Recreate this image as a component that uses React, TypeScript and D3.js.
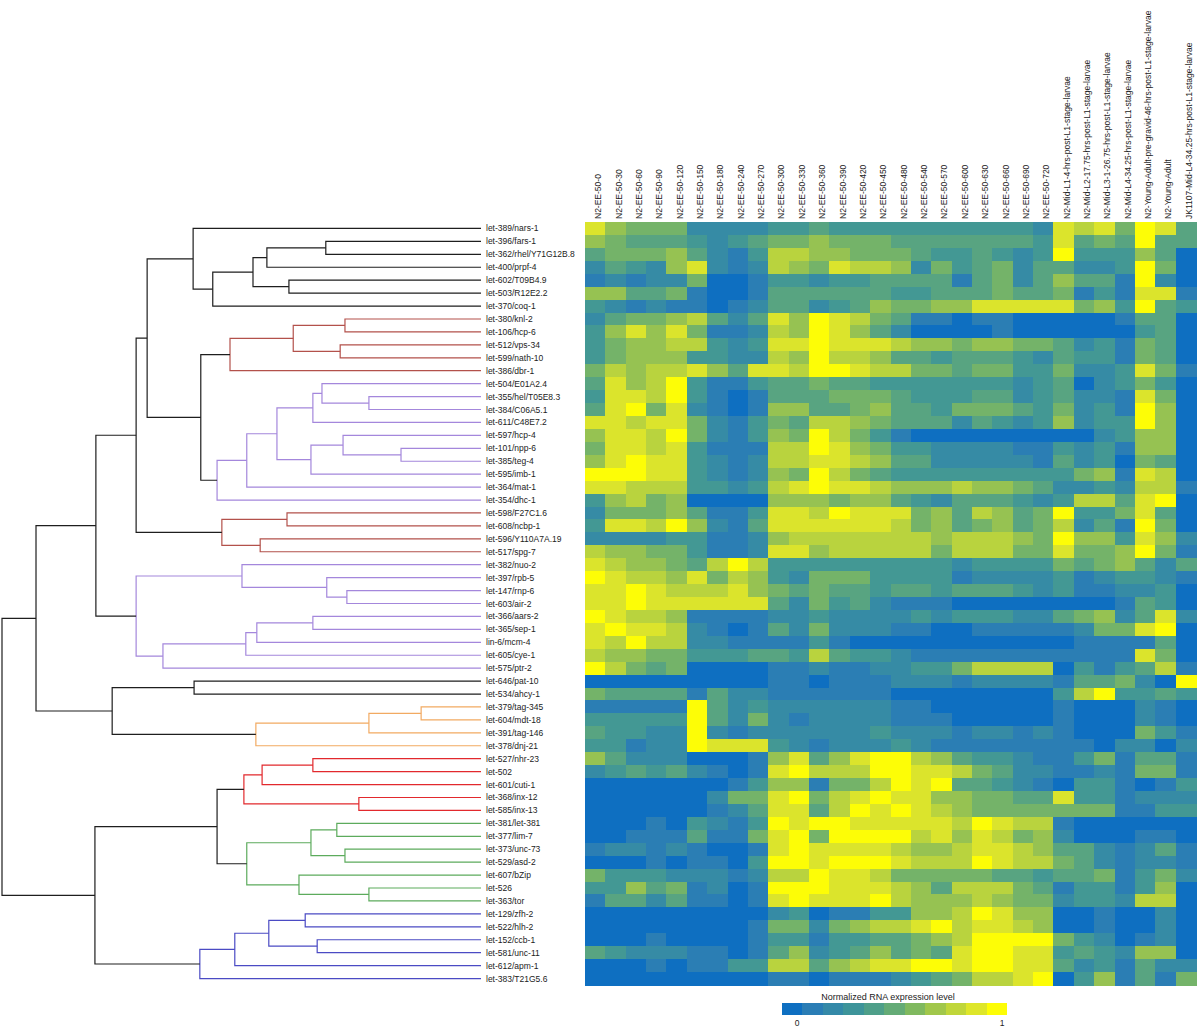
import React from "react";
import * as d3 from "d3";

const geneLabels = [
  "let-389/nars-1", "let-396/fars-1", "let-362/rhel/Y71G12B.8", "let-400/prpf-4", "let-602/T09B4.9",
  "let-503/R12E2.2", "let-370/coq-1", "let-380/knl-2", "let-106/hcp-6", "let-512/vps-34",
  "let-599/nath-10", "let-386/dbr-1", "let-504/E01A2.4", "let-355/hel/T05E8.3", "let-384/C06A5.1",
  "let-611/C48E7.2", "let-597/hcp-4", "let-101/npp-6", "let-385/teg-4", "let-595/imb-1",
  "let-364/mat-1", "let-354/dhc-1", "let-598/F27C1.6", "let-608/ncbp-1", "let-596/Y110A7A.19",
  "let-517/spg-7", "let-382/nuo-2", "let-397/rpb-5", "let-147/rnp-6", "let-603/air-2",
  "let-366/aars-2", "let-365/sep-1", "lin-6/mcm-4", "let-605/cye-1", "let-575/ptr-2",
  "let-646/pat-10", "let-534/ahcy-1", "let-379/tag-345", "let-604/mdt-18", "let-391/tag-146",
  "let-378/dnj-21", "let-527/nhr-23", "let-502", "let-601/cuti-1", "let-368/inx-12",
  "let-585/inx-13", "let-381/let-381", "let-377/lim-7", "let-373/unc-73", "let-529/asd-2",
  "let-607/bZip", "let-526", "let-363/tor", "let-129/zfh-2", "let-522/hlh-2",
  "let-152/ccb-1", "let-581/unc-11", "let-612/apm-1", "let-383/T21G5.6",
];

const sampleLabels = [
  "N2-EE-50-0", "N2-EE-50-30", "N2-EE-50-60", "N2-EE-50-90", "N2-EE-50-120", "N2-EE-50-150",
  "N2-EE-50-180", "N2-EE-50-240", "N2-EE-50-270", "N2-EE-50-300", "N2-EE-50-330", "N2-EE-50-360",
  "N2-EE-50-390", "N2-EE-50-420", "N2-EE-50-450", "N2-EE-50-480", "N2-EE-50-540", "N2-EE-50-570",
  "N2-EE-50-600", "N2-EE-50-630", "N2-EE-50-660", "N2-EE-50-690", "N2-EE-50-720",
  "N2-Mid-L1-4-hrs-post-L1-stage-larvae",
  "N2-Mid-L2-17.75-hrs-post-L1-stage-larvae",
  "N2-Mid-L3-1-26.75-hrs-post-L1-stage-larvae",
  "N2-Mid-L4-34.25-hrs-post-L1-stage-larvae",
  "N2-Young-Adult-pre-gravid-46-hrs-post-L1-stage-larvae",
  "N2-Young-Adult",
  "JK1107-Mid-L4-34.25-hrs-post-L1-stage-larvae",
];

// expression level per gene row, one digit per sample (0 = lowest, 9 = highest)
const exprLevels = [
  "865552222334333333333328785984",
  "654443234556555444444438454944",
  "455564213776655543343239333640",
  "243268212765877625345244223950",
  "121225001332334444145246441920",
  "664451001444444334445445131881",
  "321211012442346556688888563943",
  "245567424869875411011000001440",
  "368685112769864200001000000340",
  "356677323889888766566554231540",
  "356663322769776443444324331540",
  "576778648879987755455335223851",
  "486793113445443333333234023530",
  "388793101444555433344234221850",
  "489582101664456443555435231960",
  "887885213547765444243236233960",
  "688795213659753100000000023660",
  "588783111779865332222113231660",
  "689883212778876442222214230540",
  "999883212659754333333333561870",
  "887773323789887666766542232771",
  "367560000666566432444323774890",
  "255564113887988856476459335840",
  "388796214888888756456457241950",
  "222233112677777776777659663862",
  "766553112886777775777558556951",
  "876654797333333333233335456424",
  "987768576325553333122223123321",
  "889877786545443443444323112230",
  "889888888425342111000000001430",
  "987761111223222232333224562482",
  "898872101425222110011111255890",
  "879772211113100000000000111140",
  "766553334437433211111111111850",
  "975450000112112233577770313471",
  "000000000110111222122221445209",
  "544441422111111000000003793343",
  "111119423222222110000001000210",
  "333339425212222111000001000210",
  "433229212222223222122121000531",
  "331229888321222321111111102202",
  "642220001684689976433211351441",
  "234342101897779988754221121551",
  "000000013661557989443210331013",
  "000000255895789886655448331222",
  "000000124884798987655555551133",
  "000103213989988888798771000000",
  "001114115895999978687562000110",
  "122121001898888766788764421241",
  "000101103998999877798775421221",
  "533322212779887555554434451352",
  "336451201999888764777541331360",
  "144241101898889766676552332770",
  "000000000230113366798660010020",
  "000000001552567789788760010020",
  "000100001331334456799995320120",
  "432221101462346454899883432660",
  "000101133774678899899884231422",
  "000000000110111234577890361415",
];

// linkage: [childA, childB, distance (root = 1), cluster]; leaves are 0..58, merges numbered from 59
const linkage: [number, number, number, string][] = [
  [1, 2, 0.324, "k"], [59, 3, 0.447, "k"], [4, 5, 0.401, "k"], [60, 61, 0.476, "k"],
  [62, 6, 0.56, "k"], [0, 63, 0.601, "k"],
  [7, 8, 0.284, "r1"], [9, 10, 0.294, "r1"], [65, 66, 0.392, "r1"], [67, 11, 0.524, "r1"],
  [13, 14, 0.234, "p"], [12, 69, 0.332, "p"], [70, 15, 0.351, "p"], [17, 18, 0.167, "p"],
  [16, 72, 0.288, "p"], [73, 19, 0.355, "p"], [71, 74, 0.426, "p"], [75, 20, 0.489, "p"],
  [76, 21, 0.551, "p"],
  [68, 77, 0.585, "k"], [64, 78, 0.697, "k"],
  [22, 23, 0.405, "r1"], [24, 25, 0.461, "r1"], [80, 81, 0.541, "r1"],
  [79, 82, 0.72, "k"],
  [28, 29, 0.28, "p"], [27, 84, 0.322, "p"], [26, 85, 0.499, "p"], [30, 31, 0.351, "p"],
  [87, 32, 0.468, "p"], [88, 33, 0.491, "p"], [89, 34, 0.664, "p"], [86, 90, 0.72, "p"],
  [83, 91, 0.804, "k"],
  [35, 36, 0.599, "k"],
  [37, 38, 0.125, "o"], [94, 39, 0.234, "o"], [95, 40, 0.47, "o"],
  [93, 96, 0.77, "k"], [92, 97, 0.929, "k"],
  [41, 42, 0.351, "r"], [99, 43, 0.457, "r"], [44, 45, 0.255, "r"], [100, 101, 0.495, "r"],
  [46, 47, 0.301, "g"], [48, 49, 0.284, "g"], [103, 104, 0.355, "g"], [51, 52, 0.234, "g"],
  [50, 106, 0.38, "g"], [105, 107, 0.489, "g"],
  [102, 108, 0.551, "k"],
  [53, 54, 0.367, "b"], [55, 56, 0.342, "b"], [110, 111, 0.443, "b"], [112, 57, 0.514, "b"],
  [113, 58, 0.587, "b"],
  [109, 114, 0.806, "k"], [98, 115, 1.0, "k"],
];

const clusterColors: Record<string, string> = {
  k: "#1e1e1e",
  r1: "#b3514b",
  p: "#a487dc",
  o: "#f2aa62",
  r: "#e2292d",
  g: "#5cab5c",
  b: "#4b4bc4",
};

const legendColors = [
  "#0e6fc1", "#2a7db5", "#3489a8", "#3d949a", "#4e9f89", "#64ab76",
  "#80b95f", "#a1c74b", "#c0d63a", "#dee62a", "#fdfd06",
];
const legendTitle = "Normalized RNA expression level";
const legendTicks = ["0", "1"];
const maxLevel = 9;

const FONT = "'Liberation Sans', Arial, sans-serif";

export default function App() {
  const W = 1200, H = 1030;
  const rows = d3.range(geneLabels.length);
  const cols = d3.range(sampleLabels.length);
  const x = d3.scaleBand<number>().domain(cols).range([585, 1196]).paddingInner(0);
  const y = d3.scaleBand<number>().domain(rows).range([222, 985]).paddingInner(0);
  const color = d3
    .scaleLinear<string>()
    .domain(legendColors.map((_, i) => i / (legendColors.length - 1)))
    .range(legendColors)
    .interpolate(d3.interpolateRgb);
  const dx = d3.scaleLinear().domain([0, 1]).range([481, 2]);

  // dendrogram geometry
  const nLeaves = geneLabels.length;
  const nodeY: number[] = rows.map((r) => (y(r) as number) + y.bandwidth() / 2);
  const nodeH: number[] = rows.map(() => 0);
  const paths: { d: string; c: string }[] = [];
  linkage.forEach(([a, b, h, cl], i) => {
    const id = nLeaves + i;
    const ya = nodeY[a], yb = nodeY[b];
    nodeY[id] = (ya + yb) / 2;
    nodeH[id] = h;
    const p = d3.path();
    p.moveTo(dx(nodeH[a]), ya);
    p.lineTo(dx(h), ya);
    p.lineTo(dx(h), yb);
    p.lineTo(dx(nodeH[b]), yb);
    paths.push({ d: p.toString(), c: clusterColors[cl] });
  });

  const lx = d3.scaleBand<number>().domain(d3.range(legendColors.length)).range([782, 1007]);
  const lval = d3.scaleLinear().domain([0, 1]).range([797, 1002]);

  return (
    <svg width={W} height={H} style={{ position: "absolute", left: 0, top: 0, background: "#fff" }}>
      <rect x={0} y={0} width={W} height={H} fill="#fff" />
      {/* heatmap */}
      <g shapeRendering="crispEdges">
        {rows.map((r) =>
          cols.map((c) => (
            <rect
              key={`${r}-${c}`}
              x={x(c)}
              y={y(r)}
              width={x.bandwidth() + 0.5}
              height={y.bandwidth() + 0.5}
              fill={color(Number(exprLevels[r][c]) / maxLevel)}
            />
          ))
        )}
      </g>
      {/* column labels */}
      <g fontFamily={FONT} fontSize={8.5} fill="#222">
        {cols.map((c) => (
          <text
            key={c}
            transform={`translate(${(x(c) as number) + x.bandwidth() / 2 + 3},219) rotate(-90)`}
            textAnchor="start"
            dominantBaseline="central"
          >
            {sampleLabels[c]}
          </text>
        ))}
      </g>
      {/* row labels */}
      <g fontFamily={FONT} fontSize={8.5} fill="#222">
        {rows.map((r) => (
          <text key={r} x={486} y={nodeY[r]} dominantBaseline="central">
            {geneLabels[r]}
          </text>
        ))}
      </g>
      {/* dendrogram */}
      <g fill="none" strokeWidth={1.2}>
        {paths.map((p, i) => (
          <path key={i} d={p.d} stroke={p.c} />
        ))}
      </g>
      {/* legend */}
      <g fontFamily={FONT} fill="#222">
        <text x={888} y={1000} fontSize={9} textAnchor="middle">
          {legendTitle}
        </text>
        {legendColors.map((c, i) => (
          <rect key={i} x={lx(i)} y={1003} width={lx.bandwidth() + 0.3} height={12} fill={c} shapeRendering="crispEdges" />
        ))}
        {legendTicks.map((t) => (
          <text key={t} x={lval(Number(t))} y={1026} fontSize={8.5} textAnchor="middle">
            {t}
          </text>
        ))}
      </g>
    </svg>
  );
}
